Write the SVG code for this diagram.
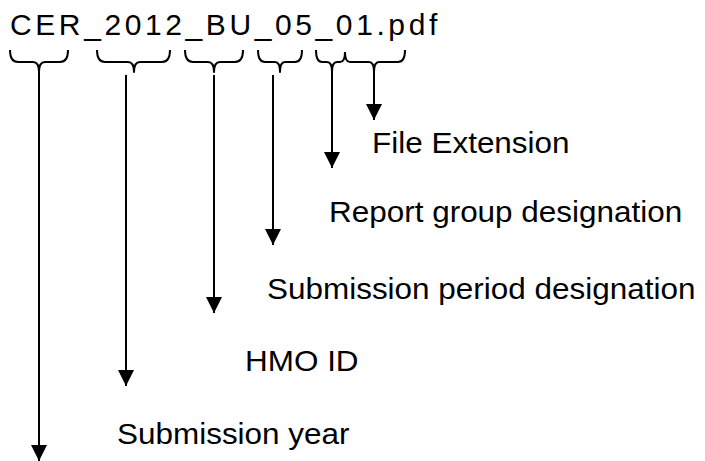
<svg xmlns="http://www.w3.org/2000/svg" width="705" height="461" viewBox="0 0 705 461">
<defs>
<style>
.t{font-family:"Liberation Sans",Arial,sans-serif;font-size:29px;fill:#000}
.ttl{font-family:"Liberation Sans",Arial,sans-serif;font-size:30px;letter-spacing:3.6px;fill:#000}
.b{fill:none;stroke:#000;stroke-width:2;stroke-linejoin:round}
.a{fill:none;stroke:#000;stroke-width:2}
</style>
<marker id="ah" markerWidth="16" markerHeight="16" viewBox="0 0 16 16" refX="16" refY="8" orient="auto" markerUnits="userSpaceOnUse">
<path d="M0,0 L16,8 L0,16 Z" fill="#000"/>
</marker>
</defs>
<rect width="705" height="461" fill="#fff"/>
<g id="title"><text class="ttl" x="10" y="35">CER_2012_BU_05_01.pdf</text></g>
<g id="braces">
<path class="b" d="M10,50 Q10,62 18,62 L33,62 Q39,62 39,72 Q39,62 45,62 L60,62 Q68,62 68,50"/>
<path class="b" d="M97,50 Q97,62 105,62 L128,62 Q134,62 134,72 Q134,62 140,62 L162,62 Q170,62 170,50"/>
<path class="b" d="M185,50 Q185,62 193,62 L208,62 Q214,62 214,72 Q214,62 220,62 L235,62 Q243,62 243,50"/>
<path class="b" d="M258,50 Q258,62 265,62 L275,62 Q280,62 280,72 Q280,62 285,62 L295,62 Q302,62 302,50"/>
<path class="b" d="M316,50 Q316,62 322,62 L327,62 Q332,62 332,72 Q332,62 337,62 L340,62 Q345,62 345,52"/>
<path class="b" d="M345,52 Q345,62 350,62 L369,62 Q374,62 374,72 Q374,62 379,62 L398,62 Q405,62 405,50"/>
</g>
<g id="connectors">
<line class="a" x1="39" y1="72" x2="39" y2="461" marker-end="url(#ah)"/>
<line class="a" x1="126" y1="75" x2="126" y2="386" marker-end="url(#ah)"/>
<line class="a" x1="214" y1="75" x2="214" y2="313" marker-end="url(#ah)"/>
<line class="a" x1="273" y1="75" x2="273" y2="245" marker-end="url(#ah)"/>
<line class="a" x1="332" y1="72" x2="332" y2="168" marker-end="url(#ah)"/>
<line class="a" x1="374" y1="72" x2="374" y2="120" marker-end="url(#ah)"/>
</g>
<g id="label-ext"><text class="t" transform="translate(372,153) scale(1.085,1)">File Extension</text></g>
<g id="label-report"><text class="t" transform="translate(329,222) scale(1.085,1)">Report group designation</text></g>
<g id="label-period"><text class="t" transform="translate(267,299) scale(1.085,1)">Submission period designation</text></g>
<g id="label-hmo"><text class="t" transform="translate(245,371) scale(1.085,1)">HMO ID</text></g>
<g id="label-year"><text class="t" transform="translate(117,444) scale(1.085,1)">Submission year</text></g>
</svg>
